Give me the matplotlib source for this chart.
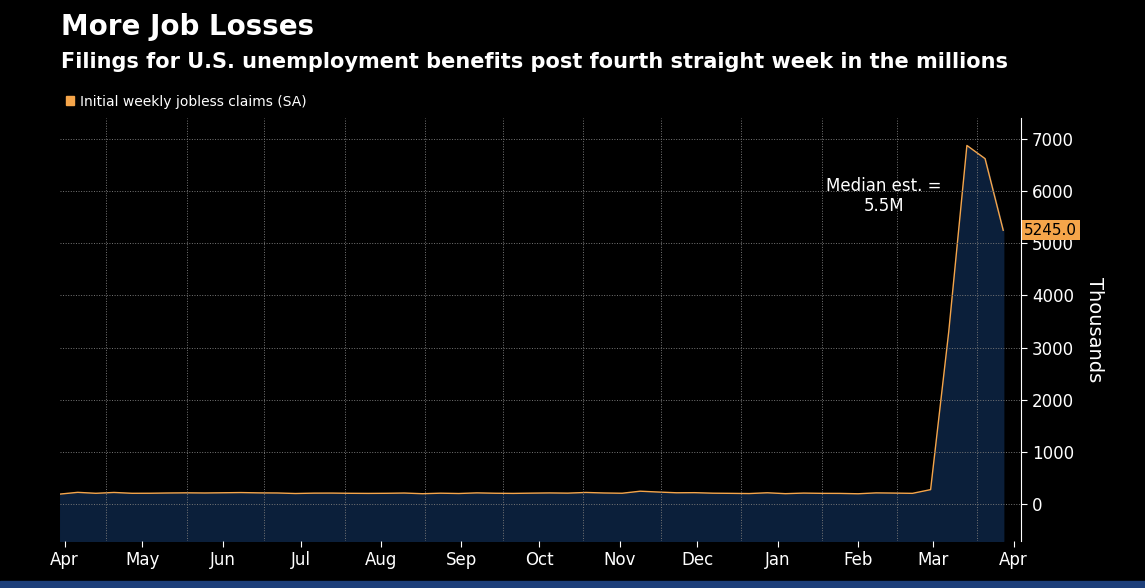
import numpy as np
import pandas as pd
import matplotlib.pyplot as plt
import matplotlib.dates as mdates

# weekly initial jobless claims, thousands (SA)
dates = pd.date_range('2019-04-06', '2020-04-11', freq='7D')
claims = [196, 230, 212, 228, 212, 213, 218, 221, 218, 222, 226, 220, 218, 208, 215,
          216, 212, 210, 212, 217, 204, 214, 208, 220, 213, 210, 215, 219, 215, 228,
          218, 213, 252, 236, 222, 224, 214, 211, 207, 222, 205, 216, 211, 210, 203,
          220, 216, 211, 282, 3307, 6867, 6615, 5245]
dates = dates[-len(claims):]
month_labels = ['Apr', 'May', 'Jun', 'Jul', 'Aug', 'Sep', 'Oct', 'Nov', 'Dec',
                'Jan', 'Feb', 'Mar', 'Apr']

fig = plt.figure(figsize=(11.45, 5.88), dpi=100, facecolor='black')
ax = fig.add_axes([0.052, 0.08, 0.84, 0.72], facecolor='black')

ax.fill_between(dates, claims, -700, color='#0b1f3a')
ax.plot(dates, claims, color='#f5a54a', lw=1)

ax.set_ylim(-700, 7400)
ax.set_xlim(dates[0], pd.Timestamp('2020-04-18'))
ax.yaxis.tick_right()
ax.yaxis.set_label_position('right')
ax.set_yticks(range(0, 7001, 1000))
ax.set_ylabel('Thousands', color='white', fontsize=14, rotation=270, labelpad=22)

ticks = [pd.Timestamp(2019 + (m + 4 > 12), (m + 4 - 1) % 12 + 1, 15) for m in range(13)]
ax.set_xticks(ticks)
ax.set_xticklabels(month_labels)
starts = pd.date_range('2019-05-01', '2020-04-01', freq='MS')
for d in starts:
    ax.axvline(d, color='#777777', lw=0.7, ls=':')
for y in range(0, 7001, 1000):
    ax.axhline(y, color='#777777', lw=0.7, ls=':')

ax.tick_params(colors='white', labelsize=12, length=4)
for s in ['top', 'left', 'bottom']:
    ax.spines[s].set_visible(False)
ax.spines['right'].set_color('white')

ax.text(pd.Timestamp('2020-02-25'), 5900, 'Median est. =\n5.5M', color='white',
        fontsize=12, ha='center', va='center')
ax.text(1.003, claims[-1], '5245.0', transform=ax.get_yaxis_transform(), color='black',
        fontsize=11, va='center', ha='left',
        bbox=dict(boxstyle='square,pad=0.15', fc='#f5a54a', ec='none'))

fig.text(0.053, 0.94, 'More Job Losses', color='white', fontsize=20, fontweight='bold')
fig.text(0.053, 0.885, 'Filings for U.S. unemployment benefits post fourth straight week in the millions',
         color='white', fontsize=15, fontweight='bold')
fig.patches.append(plt.Rectangle((0.058, 0.822), 0.007, 0.014, transform=fig.transFigure,
                                 color='#f5a54a'))
fig.text(0.07, 0.82, 'Initial weekly jobless claims (SA)', color='white', fontsize=10)
fig.patches.append(plt.Rectangle((0, 0), 1, 0.012, transform=fig.transFigure, color='#1d3f7a'))

fig.savefig('out.png', facecolor='black')
